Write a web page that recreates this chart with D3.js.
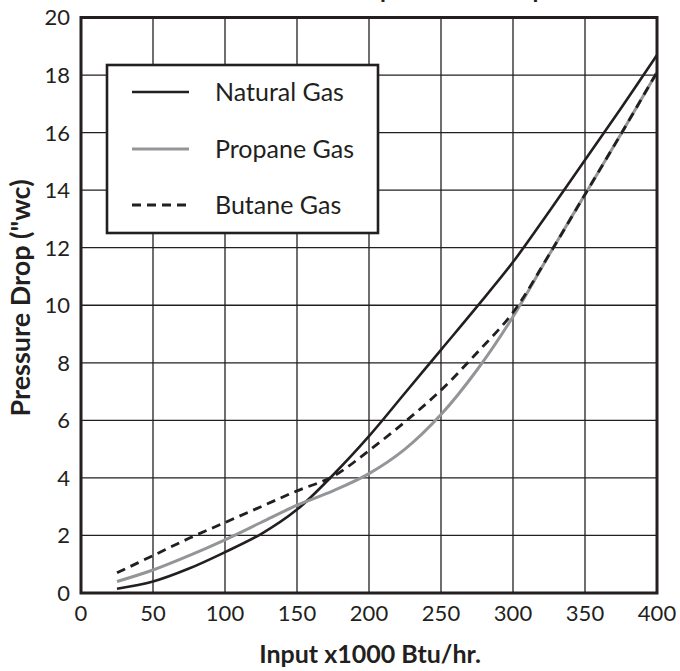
<!DOCTYPE html>
<html>
<head>
<meta charset="utf-8">
<script src="https://cdn.jsdelivr.net/npm/d3@7"></script>
<style>
  body { margin: 0; background: #fff; }
  svg { display: block; font-family: Lato, "Open Sans", sans-serif; }
</style>
</head>
<body>
<div id="chart"></div>
<script>
// data
let inputs = [25, 50, 75, 100, 125, 150, 175, 200, 225, 250, 275, 300, 325, 350, 375, 400];
let naturalGas = [0.15, 0.4, 0.85, 1.42, 2.05, 2.9, 4.1, 5.45, 6.95, 8.45, 9.95, 11.5, 13.25, 15.05, 16.85, 18.7];
let propaneGas = [0.4, 0.8, 1.3, 1.85, 2.45, 3.05, 3.55, 4.15, 5.0, 6.2, 7.75, 9.6, 11.75, 13.85, 15.95, 18.1];
let butaneGas = [0.7, 1.3, 1.9, 2.45, 3.0, 3.55, 4.05, 4.95, 5.95, 7.05, 8.35, 9.75, 11.75, 13.85, 15.95, 18.1];
let xTicks = [0, 50, 100, 150, 200, 250, 300, 350, 400];
let yTicks = [0, 2, 4, 6, 8, 10, 12, 14, 16, 18, 20];
let seriesNames = ['Natural Gas', 'Propane Gas', 'Butane Gas'];

let svgWidth = 680;
let svgHeight = 671;
let plot = { left: 81, right: 657, top: 17.5, bottom: 593 };
let ink = '#231f20';

let svg = d3.select('#chart').append('svg')
    .attr('width', svgWidth).attr('height', svgHeight);

let x = d3.scaleLinear().domain([0, 400]).range([plot.left, plot.right]);
let y = d3.scaleLinear().domain([0, 20]).range([plot.bottom, plot.top]);

// title (sits above the frame, only descenders show)
let title = svg.append('text')
    .attr('y', -2)
    .attr('font-weight', 'bold')
    .attr('font-size', 24)
    .attr('fill', ink)
    .text('Pressure Drop vs. Burner Input');
let pIndex = title.text().indexOf('p');
title.attr('x', 385 - title.node().getStartPositionOfChar(pIndex).x - 5);

// grid
svg.append('g').selectAll('line')
    .data(xTicks.slice(1, -1))
    .enter().append('line')
    .attr('x1', d => x(d)).attr('x2', d => x(d))
    .attr('y1', plot.top).attr('y2', plot.bottom)
    .attr('stroke', ink).attr('stroke-width', 1.3);

svg.append('g').selectAll('line')
    .data(yTicks.slice(1, -1))
    .enter().append('line')
    .attr('y1', d => y(d)).attr('y2', d => y(d))
    .attr('x1', plot.left).attr('x2', plot.right)
    .attr('stroke', ink).attr('stroke-width', 1.3);

// series lines
let rows = inputs.map((v, i) => ({ x: v, n: naturalGas[i], p: propaneGas[i], b: butaneGas[i] }));
let lineFor = key => d3.line()
    .x(d => x(d.x))
    .y(d => y(d[key]))
    .curve(d3.curveCatmullRom);

svg.append('path').datum(rows)
    .attr('d', lineFor('n'))
    .attr('fill', 'none').attr('stroke', ink).attr('stroke-width', 2.6);

svg.append('path').datum(rows)
    .attr('d', lineFor('p'))
    .attr('fill', 'none').attr('stroke', '#939598').attr('stroke-width', 3);

svg.append('path').datum(rows)
    .attr('d', lineFor('b'))
    .attr('fill', 'none').attr('stroke', ink).attr('stroke-width', 2.8)
    .attr('stroke-dasharray', '9,6');

// frame
svg.append('rect')
    .attr('x', plot.left).attr('y', plot.top)
    .attr('width', plot.right - plot.left).attr('height', plot.bottom - plot.top)
    .attr('fill', 'none').attr('stroke', ink).attr('stroke-width', 3);

// tick labels
svg.append('g').selectAll('text')
    .data(yTicks)
    .enter().append('text')
    .attr('x', 70).attr('y', d => y(d))
    .attr('dy', '0.36em')
    .attr('text-anchor', 'end')
    .attr('font-size', 22)
    .attr('fill', ink)
    .text(d => d);

svg.append('g').selectAll('text')
    .data(xTicks)
    .enter().append('text')
    .attr('x', d => x(d)).attr('y', 621)
    .attr('text-anchor', 'middle')
    .attr('font-size', 22)
    .attr('fill', ink)
    .text(d => d);

// axis titles
svg.append('text')
    .attr('x', 370).attr('y', 663)
    .attr('text-anchor', 'middle')
    .attr('font-weight', 'bold').attr('font-size', 25)
    .attr('fill', ink)
    .text('Input x1000 Btu/hr.');

svg.append('text')
    .attr('transform', 'translate(30, 298) rotate(-90)')
    .attr('text-anchor', 'middle')
    .attr('font-weight', 'bold').attr('font-size', 27)
    .attr('fill', ink)
    .text('Pressure Drop ("wc)');

// legend
let legend = svg.append('g');
legend.append('rect')
    .attr('x', 107).attr('y', 65)
    .attr('width', 271).attr('height', 168)
    .attr('fill', '#fff').attr('stroke', ink).attr('stroke-width', 2.6);

let legendStyles = [
    { stroke: ink, width: 2.6, dash: null },
    { stroke: '#939598', width: 3, dash: null },
    { stroke: ink, width: 2.8, dash: '9,6' }
];
let legendY = [92, 149, 205];

seriesNames.forEach(function(name, i) {
    legend.append('line')
        .attr('x1', 132).attr('x2', 189)
        .attr('y1', legendY[i]).attr('y2', legendY[i])
        .attr('stroke', legendStyles[i].stroke)
        .attr('stroke-width', legendStyles[i].width)
        .attr('stroke-dasharray', legendStyles[i].dash);
    legend.append('text')
        .attr('x', 215).attr('y', legendY[i])
        .attr('dy', '0.36em')
        .attr('font-size', 25)
        .attr('fill', ink)
        .text(name);
});
</script>
</body>
</html>
